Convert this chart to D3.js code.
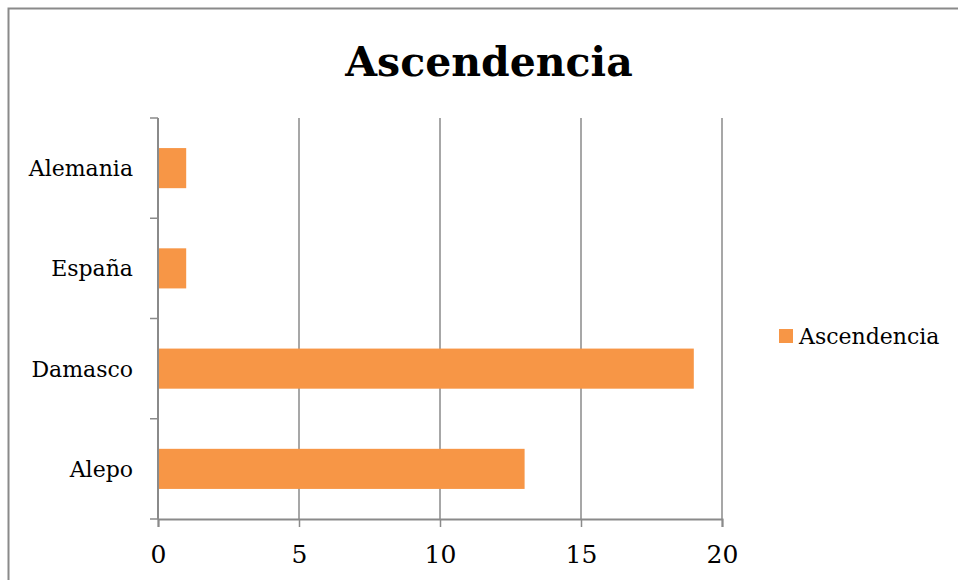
<!DOCTYPE html>
<html>
<head>
<meta charset="utf-8">
<script src="https://cdn.jsdelivr.net/npm/d3@7"></script>
<style>
  body { margin: 0; background: #fff; }
  text { font-family: "DejaVu Serif", serif; fill: #000; }
</style>
</head>
<body>
<svg width="958" height="580"></svg>
<script>
const categories = ['Alemania', 'España', 'Damasco', 'Alepo'];
const values = [1, 1, 19, 13];
const tickValues = [0, 5, 10, 15, 20];
const seriesName = 'Ascendencia';
const chartTitle = 'Ascendencia';

var svg = d3.select('svg');
const gray = '#8a8a8a';
const barColor = '#f79646';

// chart frame (runs off the right and bottom edges)
svg.append('rect')
  .attr('x', 8.5).attr('y', 8.5)
  .attr('width', 1000).attr('height', 600)
  .attr('fill', 'none')
  .attr('stroke', gray)
  .attr('stroke-width', 2);

svg.append('text')
  .attr('x', 489).attr('y', 76)
  .attr('text-anchor', 'middle')
  .style('font-size', '41px')
  .style('font-weight', 'bold')
  .text(chartTitle);

const plot = {left: 158, right: 722, top: 118, bottom: 519};

const xScale = d3.scaleLinear()
  .domain([0, 20])
  .range([plot.left, plot.right]);

const yScale = d3.scaleBand()
  .domain(categories)
  .range([plot.top, plot.bottom])
  .paddingInner(0.6)
  .paddingOuter(0.3);

// vertical gridlines
svg.append('g').selectAll('line').data(tickValues.slice(1))
  .enter().append('line')
  .attr('x1', d => xScale(d)).attr('x2', d => xScale(d))
  .attr('y1', plot.top).attr('y2', plot.bottom)
  .attr('stroke', gray)
  .attr('stroke-width', 1.5);

// bars
svg.append('g').selectAll('rect').data(categories)
  .enter().append('rect')
  .attr('x', xScale(0))
  .attr('y', d => yScale(d))
  .attr('width', (d, i) => xScale(values[i]) - xScale(0))
  .attr('height', yScale.bandwidth())
  .attr('fill', barColor);

// bottom axis
const xAxis = svg.append('g')
  .attr('transform', `translate(0,${plot.bottom})`)
  .call(d3.axisBottom(xScale).tickValues(tickValues).tickSize(8).tickPadding(18));
xAxis.select('.domain').attr('stroke', gray).attr('stroke-width', 2);
xAxis.selectAll('.tick line').attr('stroke', gray).attr('stroke-width', 1.5);
xAxis.selectAll('.tick text')
  .style('font-family', '"DejaVu Serif", serif')
  .style('font-size', '25px')
  .attr('fill', '#000');

// left axis: ticks sit on the band boundaries
const bandEdge = d3.range(categories.length + 1)
  .map(i => plot.top + i * (plot.bottom - plot.top) / categories.length);
svg.append('line')
  .attr('x1', plot.left).attr('x2', plot.left)
  .attr('y1', plot.top).attr('y2', plot.bottom)
  .attr('stroke', gray).attr('stroke-width', 2);
svg.append('g').selectAll('line').data(bandEdge)
  .enter().append('line')
  .attr('x1', plot.left - 8).attr('x2', plot.left)
  .attr('y1', d => d).attr('y2', d => d)
  .attr('stroke', gray).attr('stroke-width', 1.5);

svg.append('g').selectAll('text').data(categories)
  .enter().append('text')
  .attr('x', 133)
  .attr('y', d => yScale(d) + yScale.bandwidth() / 2 + 8)
  .attr('text-anchor', 'end')
  .style('font-size', '22px')
  .text(d => d);

// legend
svg.append('rect')
  .attr('x', 779).attr('y', 329)
  .attr('width', 14).attr('height', 14)
  .attr('fill', barColor);
svg.append('text')
  .attr('x', 799).attr('y', 344)
  .style('font-size', '22px')
  .text(seriesName);
</script>
</body>
</html>
